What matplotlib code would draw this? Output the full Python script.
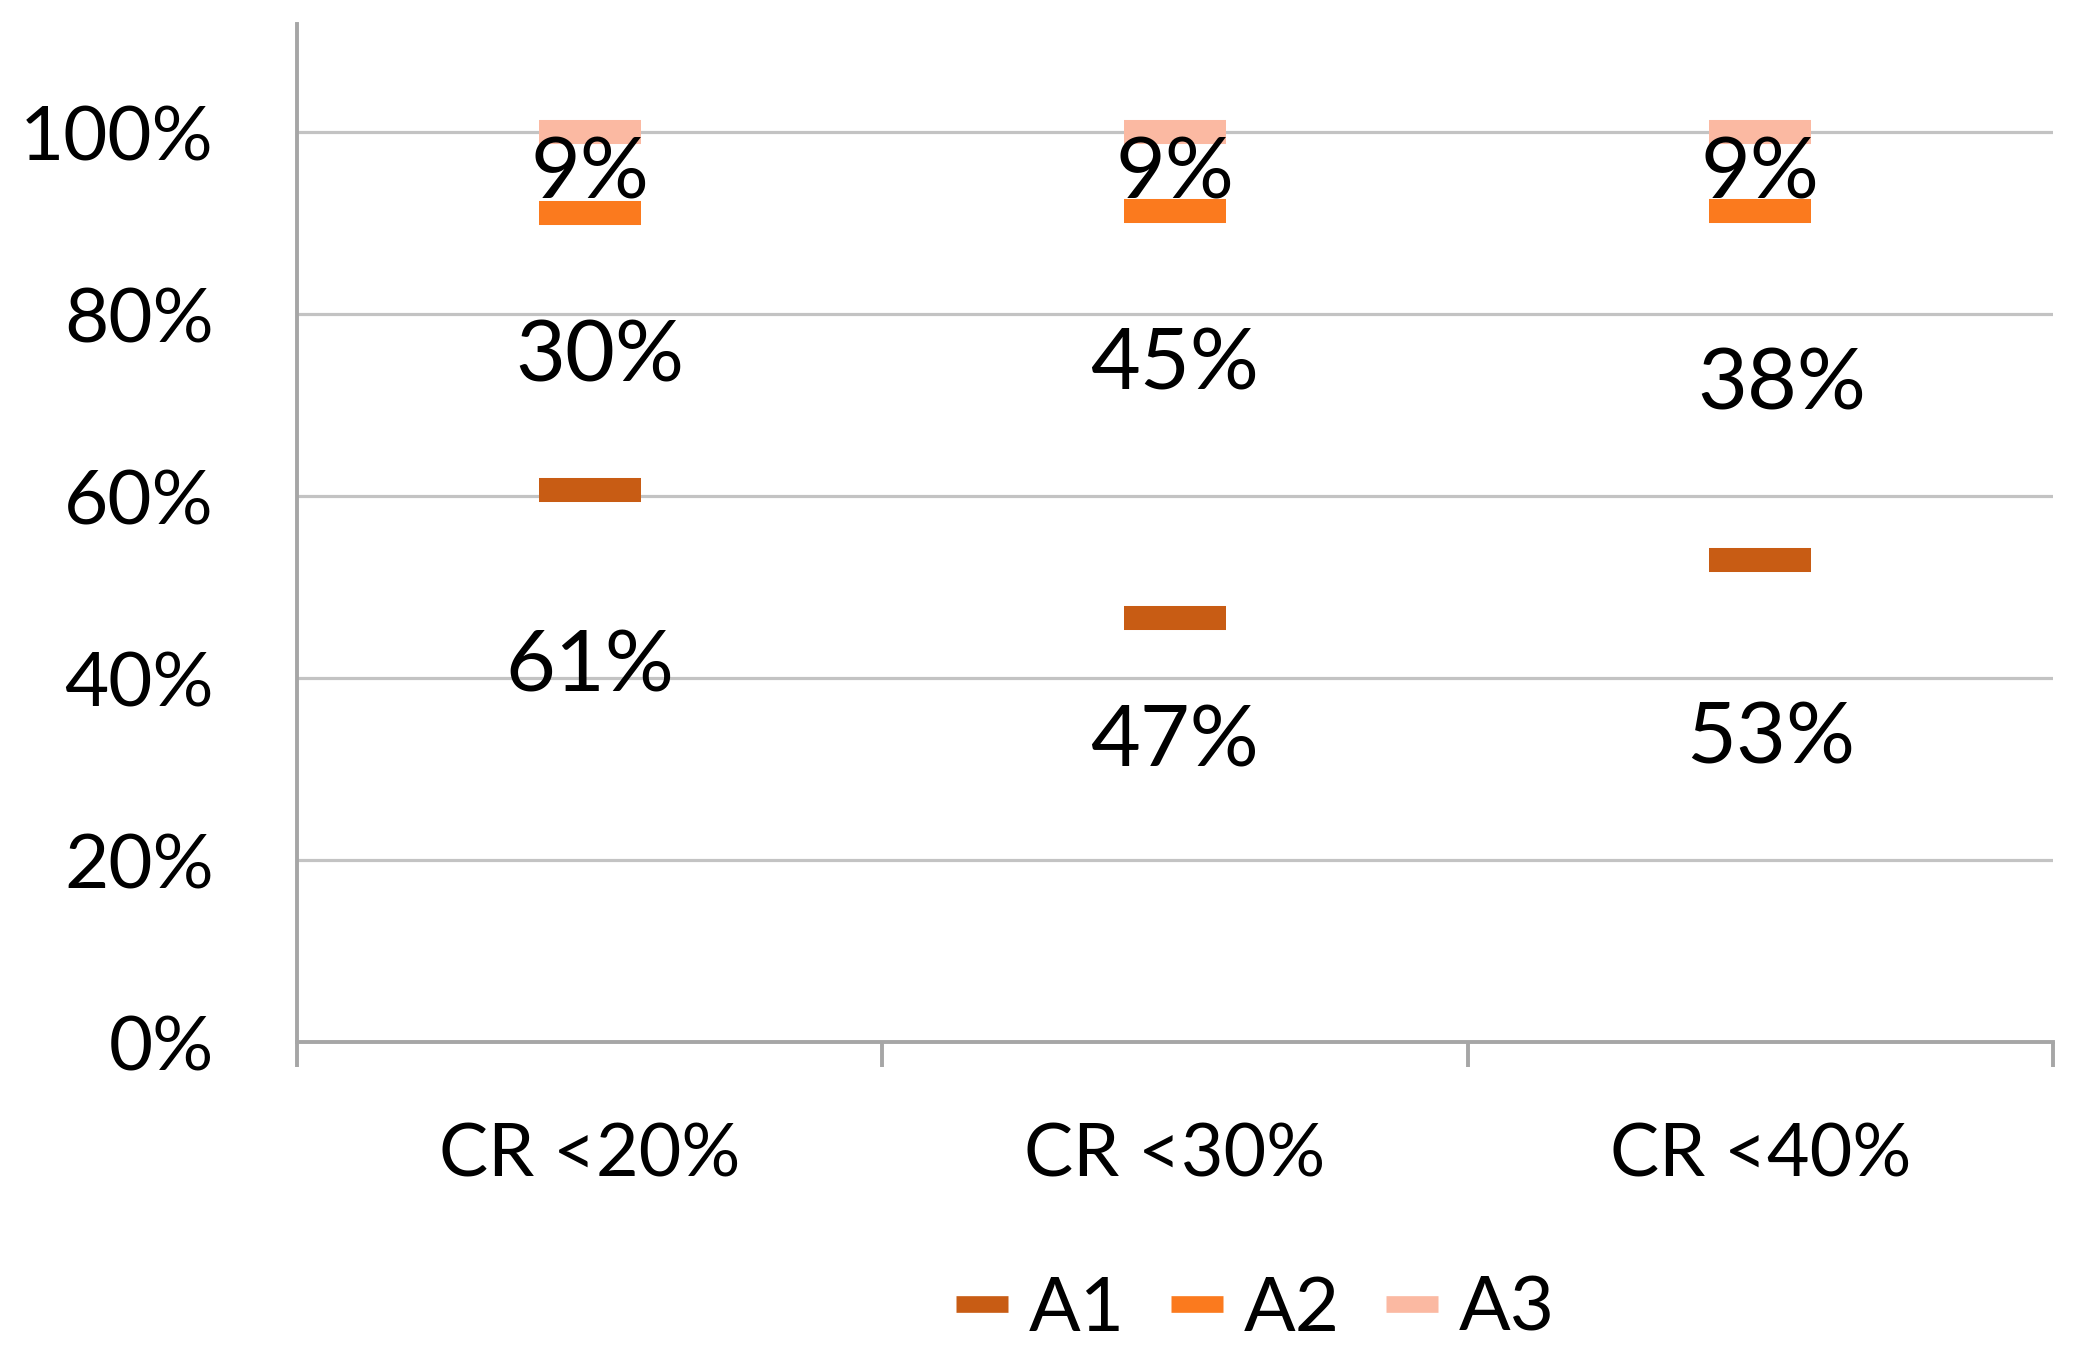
import matplotlib
matplotlib.use('Agg')
import matplotlib.pyplot as plt
from matplotlib.lines import Line2D
import numpy as np

plt.rcParams['font.family'] = ['Lato', 'DejaVu Sans']

# ---------------- data ----------------
categories = ['CR <20%', 'CR <30%', 'CR <40%']
series_names = ['A1', 'A2', 'A3']
a1 = [0.607, 0.466, 0.530]
a2 = [0.304, 0.447, 0.383]
a3 = [0.089, 0.087, 0.087]
y_ticks = [0.0, 0.2, 0.4, 0.6, 0.8, 1.0]
y_tick_labels = ['0%', '20%', '40%', '60%', '80%', '100%']

# ---------------- layout / style ----------------
colors = ['#C85C14', '#FB7A1E', '#FBB9A2']
label_y = [[0.412, 0.329, 0.333],   # A1 labels
           [0.752, 0.744, 0.722],   # A2 labels
           [0.953, 0.953, 0.953]]   # A3 labels
label_dx = [[0.0, 0.0, 0.018],
            [0.018, 0.0, 0.036],
            [0.0, 0.0, 0.0]]
axis_color = '#A6A6A6'
grid_color = '#C3C3C3'

fig = plt.figure(figsize=(20.81, 13.54), dpi=100)
ax = fig.add_axes([0.1427, 0.2304, 0.8438, 0.7519])
ax.set_xlim(-0.5, 2.5)
ax.set_ylim(0, 1.119)

x = np.arange(len(categories))
series = np.array([a1, a2, a3])
cum = np.cumsum(series, axis=0)

for i, name in enumerate(series_names):
    ax.plot(x, cum[i], linestyle='none', marker='_', ms=73.4, mew=17.3,
            color=colors[i], zorder=3, clip_on=False)
    for j in range(len(categories)):
        ax.text(x[j] + label_dx[i][j], label_y[i][j], f"{series[i][j]*100:.0f}%",
                ha='center', va='center', fontsize=62, color='black', zorder=4)

# axes styling
for s in ['top', 'right']:
    ax.spines[s].set_visible(False)
for s in ['left', 'bottom']:
    ax.spines[s].set_color(axis_color)
    ax.spines[s].set_linewidth(2.8)

ax.set_yticks(y_ticks)
ax.set_yticklabels(y_tick_labels)
ax.yaxis.grid(True, color=grid_color, linewidth=2.3)
ax.set_axisbelow(True)
ax.tick_params(axis='y', length=0, pad=60, labelsize=55)

ax.set_xticks(x)
ax.set_xticklabels(categories)
ax.set_xticks(np.arange(-0.5, len(categories), 1.0), minor=True)
ax.tick_params(axis='x', which='major', length=0, pad=58, labelsize=53)
ax.tick_params(axis='x', which='minor', length=18, width=2.8, color=axis_color,
               direction='out')

handles = [Line2D([], [], linestyle='none', marker='_', ms=38, mew=12, color=c)
           for c in colors]
fig.legend(handles, series_names, loc='center', bbox_to_anchor=(0.603, 0.033),
           ncol=3, frameon=False, fontsize=55, handlelength=0.7,
           handletextpad=0.26, columnspacing=0.6)

fig.savefig('out.png', dpi=100)
